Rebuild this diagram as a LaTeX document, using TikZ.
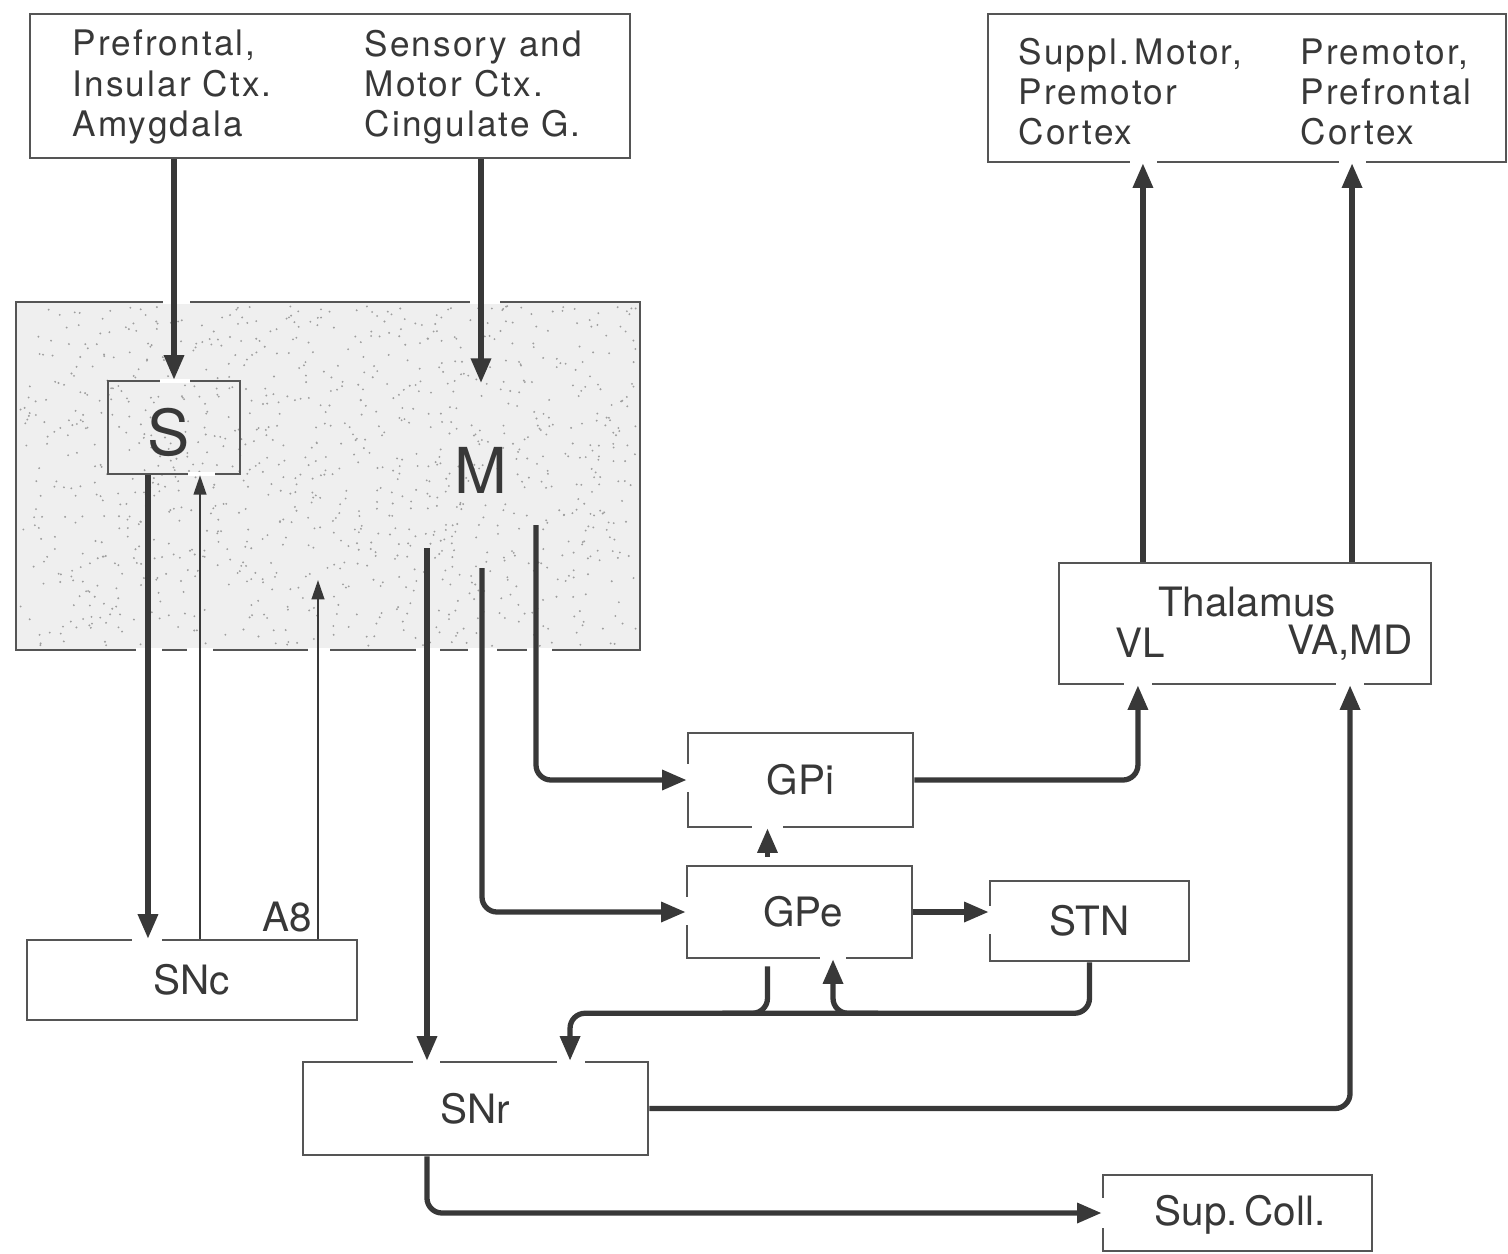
\documentclass[tikz,border=0pt]{standalone}
\usepackage{fontspec}
\setmainfont{TeX Gyre Heros}
\newfontfamily\widefont[LetterSpace=6]{TeX Gyre Heros}
\usetikzlibrary{arrows.meta}
\definecolor{ink}{HTML}{383838}
\definecolor{edge}{HTML}{555555}
\definecolor{stip}{HTML}{EFEFEF}
\begin{document}
\begin{tikzpicture}[x=0.01cm,y=-0.01cm,
  box/.style={draw=edge, line width=0.7pt, inner sep=0pt},
  bigarrow/.style={draw=ink, line width=1.5pt, rounded corners=0.15cm, -{Triangle[length=7pt,width=5.5pt]}},
  bigline/.style={draw=ink, line width=1.5pt, rounded corners=0.15cm},
  thinarrow/.style={draw=ink, line width=0.6pt, -{Triangle[length=5.5pt,width=3.6pt]}},
  lbl/.style={font=\fontsize{11.5}{13}\selectfont, text=ink, inner sep=0pt},
  big/.style={font=\fontsize{18}{20}\selectfont, text=ink, inner sep=0pt},
  ctx/.style={font=\widefont\fontsize{10}{11.4}\selectfont, text=ink, align=left, anchor=west, inner sep=0pt},
  gap/.style={fill=white}]
\useasboundingbox (0,0) rectangle (1508,1254);

% ---- boxes ----
\node[box, fill=white, minimum width=6.00cm, minimum height=1.44cm] (ctxL) at (330,86) {};
\node[box, fill=white, minimum width=5.18cm, minimum height=1.48cm] (ctxR) at (1247,88) {};
\node[box, fill=stip, minimum width=6.24cm, minimum height=3.48cm] (str) at (328,476) {};
\pgfmathsetseed{7}
\foreach \i in {1,...,1100}{\fill[black!38] ({328+308*rand},{476+170*rand}) circle (0.3pt);}
\node[box, minimum width=1.32cm, minimum height=0.93cm] (S) at (174,427.5) {};
\node[box, fill=white, minimum width=3.30cm, minimum height=0.80cm] (SNc) at (192,980) {};
\node[box, fill=white, minimum width=3.45cm, minimum height=0.93cm] (SNr) at (475.5,1108.5) {};
\node[box, fill=white, minimum width=2.25cm, minimum height=0.94cm] (GPi) at (800.5,780) {};
\node[box, fill=white, minimum width=2.25cm, minimum height=0.92cm] (GPe) at (799.5,912) {};
\node[box, fill=white, minimum width=1.99cm, minimum height=0.80cm] (STN) at (1089.5,921) {};
\node[box, fill=white, minimum width=3.72cm, minimum height=1.21cm] (Thal) at (1245,623.5) {};
\node[box, fill=white, minimum width=2.69cm, minimum height=0.76cm] (SC) at (1237.5,1213) {};

% ---- gaps in borders where connectors cross ----
\fill[gap] (163,300) rectangle (190,304);
\fill[gap] (470,300) rectangle (500,304);
\foreach \a/\b in {136/162,187/213,308/330,416/440,468/497,527/552}{\fill[gap] (\a,648) rectangle (\b,652);}
\fill[gap] (160,379) rectangle (190,383);
\fill[gap] (188,472) rectangle (215,476);
\fill[gap] (132,936) rectangle (162,944);
\fill[gap] (413,1058) rectangle (440,1066);
\fill[gap] (557,1058) rectangle (585,1066);
\fill[gap] (684,764) rectangle (692,792);
\fill[gap] (752,823) rectangle (783,831);
\fill[gap] (683,897) rectangle (691,925);
\fill[gap] (820,954) rectangle (846,962);
\fill[gap] (986,906) rectangle (994,934);
\fill[gap] (1124,680) rectangle (1152,688);
\fill[gap] (1336,680) rectangle (1364,688);
\fill[gap] (1130,158) rectangle (1157,166);
\fill[gap] (1339,158) rectangle (1366,166);
\fill[gap] (1099,1198) rectangle (1107,1228);

% ---- texts ----
\node[ctx] (tL1) at (72,87) {Prefrontal,\\Insular Ctx.\\Amygdala};
\node[ctx] (tL2) at (364,87) {Sensory and\\Motor Ctx.\\Cingulate G.};
\node[ctx] (tR1) at (1018,92) {Suppl.\,Motor,\\Premotor\\Cortex};
\node[ctx] (tR2) at (1300,92) {Premotor,\\Prefrontal\\Cortex};
\node[big] (Slbl) at (169,432) {S};
\node[big] (M) at (481,470) {M};
\node[lbl] at (SNc) (SNclbl) {SNc};
\node[lbl] at (SNr) (SNrlbl) {SNr};
\node[lbl] at (GPi) (GPilbl) {GPi};
\node[lbl] at (803,912) (GPelbl) {GPe};
\node[lbl] at (STN) (STNlbl) {STN};
\node[lbl] at (1240,1215) (SClbl) {Sup.\,Coll.};
\node[lbl] at (1247,602) (Thlbl) {Thalamus};
\node[lbl] at (1140,643) (VL) {VL};
\node[lbl] at (1350,643) (VAMD) {VA,MD};
\node[lbl] at (287,917) (A8) {A8};

% ---- connector coordinates ----
\coordinate (Mtop) at (481,383);
\coordinate (m1) at (427,548);
\coordinate (m2) at (482,568);
\coordinate (m3) at (536,525);
\coordinate (sL) at ([xshift=-0.26cm]S.south);
\coordinate (sR) at ([xshift=0.26cm]S.south);
\coordinate (a8top) at (318,580);
\coordinate (ge1) at ([xshift=-0.32cm]GPe.north);
\coordinate (ge2) at ([xshift=0.335cm]GPe.south);
\coordinate (ge3) at ([xshift=-0.32cm]GPe.south);
\coordinate (snr2) at ([xshift=0.945cm]SNr.north);
\coordinate (sb) at ([xshift=-0.485cm]SNr.south);
\coordinate (tvl) at ([xshift=-1.07cm]Thal.south);
\coordinate (tva) at ([xshift=1.05cm]Thal.south);
\coordinate (tt1) at ([xshift=-1.02cm]Thal.north);
\coordinate (tt2) at ([xshift=1.07cm]Thal.north);

% ---- connectors ----
\draw[bigarrow] (S.north |- ctxL.south) -- (S.north);
\draw[bigarrow] (Mtop |- ctxL.south) -- (Mtop);
\draw[bigarrow] (sL) -- (sL |- SNc.north);
\draw[thinarrow] (sR |- SNc.north) -- (sR);
\draw[thinarrow] (a8top |- SNc.north) -- (a8top);
\draw[bigarrow] (m1) -- (m1 |- SNr.north);
\draw[bigarrow] (m2) |- (GPe.west);
\draw[bigarrow] (m3) |- (GPi.west);
\draw[bigarrow, shorten <=0.08cm] (ge1) -- (ge1 |- GPi.south);
\draw[bigarrow] (GPe.east) -- (GPe.east -| STN.west);
\draw[bigarrow] (STN.south) -- ++(0,51) -| (snr2);
\draw[bigarrow] ([shift={(45,54)}]ge2) -- ([shift={(0,54)}]ge2) -- (ge2);
\draw[bigline] ([yshift=-0.07cm]ge3) -- ([shift={(0,54)}]ge3) -- ([shift={(-45,54)}]ge3);
\draw[bigarrow] (GPi.east) -| (tvl);
\draw[bigarrow] (SNr.east) -| (tva);
\draw[bigarrow] (tt1) -- (tt1 |- ctxR.south);
\draw[bigarrow] (tt2) -- (tt2 |- ctxR.south);
\draw[bigarrow] (sb) |- (SC.west);
\end{tikzpicture}
\end{document}
